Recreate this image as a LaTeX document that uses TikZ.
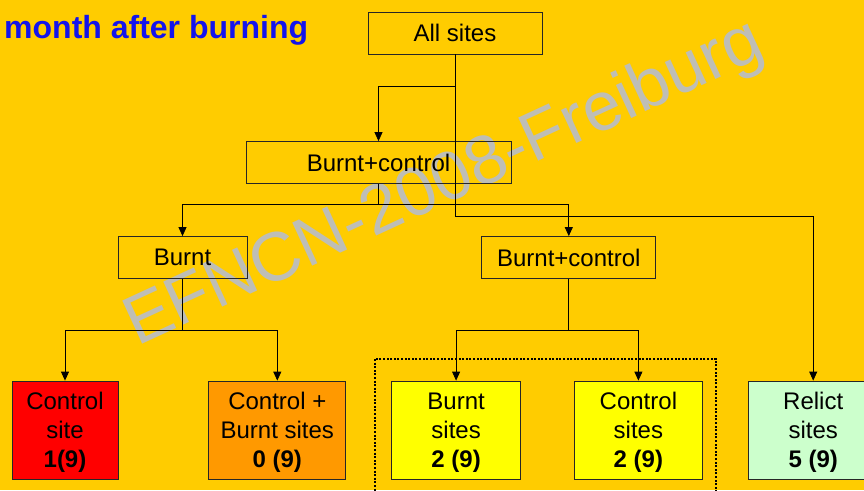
\documentclass[tikz,border=0pt]{standalone}
\usepackage{fontspec}
\setmainfont{Liberation Sans}
\usepackage{xcolor}
\usetikzlibrary{arrows.meta, positioning}

\definecolor{bgorange}{HTML}{FFCC00}
\definecolor{siteRed}{HTML}{FF0000}
\definecolor{siteOrange}{HTML}{FF9900}
\definecolor{siteYellow}{HTML}{FFFF00}
\definecolor{siteGreen}{HTML}{CCFFCC}
\definecolor{titleblue}{HTML}{1414EB}
\definecolor{markgray}{RGB}{190,190,182}

% strut that pushes the three lines of a leaf box a little lower
\newcommand{\leaftop}{\rule{0pt}{22.5pt}}

\begin{document}
\begin{tikzpicture}[
    x=1pt, y=-1pt,
    node distance=45pt,
    box/.style={rectangle, draw=black!85, line width=0.8pt, inner sep=0pt, minimum height=42pt, font=\fontsize{24}{29}\selectfont},
    leaf/.style={box, align=center, minimum height=98pt},
    arrow/.style={line width=0.8pt, -{Triangle[length=9pt,width=8pt]}},
    dotframe/.style={line width=2pt, dash pattern=on 2pt off 1.6pt}
]
    \useasboundingbox (0,0) rectangle (864,490);
    \clip (0,0) rectangle (864,490);
    \fill[bgorange] (0,0) rectangle (864,490);

    % watermark behind everything
    \node[anchor=base west, inner sep=0pt, rotate=24.8, text=markgray, font=\fontsize{69}{69}\selectfont] (mark) at (137,347) {EFNCN-2008-Freiburg};

    \node[anchor=base west, inner sep=0pt, text=titleblue, font=\fontsize{32}{36}\selectfont\bfseries] (title) at (4,38) {month after burning};

    % tree
    \node[box, minimum width=174pt] (all) at (455,33) {All sites};
    \node[box, minimum width=265pt] (bc1) at (378.5,162.5) {Burnt+control};
    \node[box, minimum width=129pt] (burnt) at (182.5,257.5) {Burnt};
    \node[box, minimum width=174pt, right=234pt of burnt] (bc2) {Burnt+control};

    \node[leaf, fill=siteRed, minimum width=106pt] (ctrl) at (65,430) {\leaftop Control\\site\\\textbf{1(9)}};
    \node[leaf, fill=siteOrange, minimum width=137pt, right=90pt of ctrl] (cb) {\leaftop Control +\\Burnt sites\\\textbf{0 (9)}};
    \node[leaf, fill=siteYellow, minimum width=129pt, right=45pt of cb] (bs) {\leaftop Burnt\\sites\\\textbf{2 (9)}};
    \node[leaf, fill=siteYellow, minimum width=128pt, right=53pt of bs] (cs) {\leaftop Control\\sites\\\textbf{2 (9)}};
    \node[leaf, fill=siteGreen, minimum width=130pt, right=45pt of cs] (relict) {\leaftop Relict\\sites\\\textbf{5 (9)}};

    \draw[arrow] (all.south) -- ++(0,32) -| (bc1);
    \draw[arrow] (all.south) -- ++(0,162) -| (relict);
    \draw[arrow] (bc1.south) -- ++(0,20) -| (burnt);
    \draw[arrow] (bc1.south) -- ++(0,20) -| (bc2);
    \draw[arrow] (burnt.south) -- ++(0,51) -| (ctrl);
    \draw[arrow] (burnt.south) -- ++(0,51) -| (cb);
    \draw[arrow] (bc2.south) -- ++(0,51) -| (bs);
    \draw[arrow] (bc2.south) -- ++(0,51) -| (cs);

    % frame round the burnt/control pair
    \draw[dotframe] (375,359) rectangle (716,500);
\end{tikzpicture}
\end{document}
